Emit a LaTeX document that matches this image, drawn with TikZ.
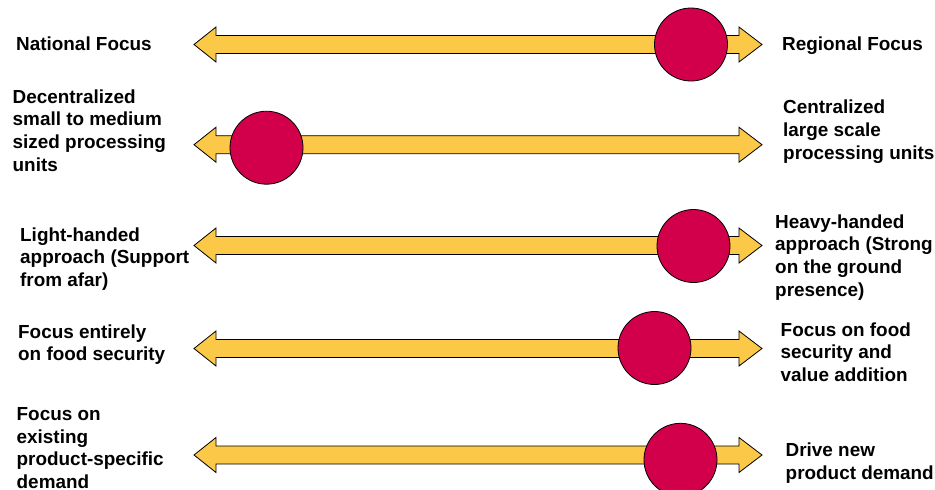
\documentclass[tikz,border=0pt]{standalone}
\usepackage{fontspec}
\setmainfont{Liberation Sans}
\definecolor{arrowfill}{HTML}{FBC847}
\definecolor{dotfill}{HTML}{D2004A}
\tikzset{
  arrowshape/.style={fill=arrowfill,draw=black,line width=0.8pt,line join=miter},
  dot/.style={circle,fill=dotfill,draw=black,line width=0.8pt,minimum size=73pt,inner sep=0pt},
  lbl/.style={anchor=north west,inner sep=0pt,align=left,font=\fontsize{18.9}{22.6}\selectfont\bfseries}
}
\newcommand{\dblarrow}[1]{%
  \draw[arrowshape] (194,#1) -- (216,#1-17.5) -- (216,#1-9) -- (739,#1-9) -- (739,#1-17.5)
    -- (762,#1) -- (739,#1+17.5) -- (739,#1+9) -- (216,#1+9) -- (216,#1+17.5) -- cycle;}
\begin{document}
\begin{tikzpicture}[x=1pt,y=-1pt]
\useasboundingbox (0,0) rectangle (935,490);
% arrows
\dblarrow{44.5}
\dblarrow{144.7}
\dblarrow{245.5}
\dblarrow{348.5}
\dblarrow{455}
% dots
\node[dot] (d1) at (691,44.5) {};
\node[dot] (d2) at (266.5,147.7) {};
\node[dot] (d3) at (693.5,246) {};
\node[dot] (d4) at (654.5,348) {};
\node[dot] (d5) at (680.5,459.8) {};
% left labels
\node[lbl] (l1) at (16,37) {National Focus};
\node[lbl] (l2) at (12.5,89.5) {Decentralized\\small to medium\\sized processing\\units};
\node[lbl] (l3) at (20,227.5) {Light-handed\\approach (Support\\from afar)};
\node[lbl] (l4) at (18,324.5) {Focus entirely\\on food security};
\node[lbl] (l5) at (16.5,407.5) {Focus on\\existing\\product-specific\\demand};
% right labels
\node[lbl] (r1) at (782,37) {Regional Focus};
\node[lbl] (r2) at (783,100) {Centralized\\large scale\\processing units};
\node[lbl] (r3) at (775,214.5) {Heavy-handed\\approach (Strong\\on the ground\\presence)};
\node[lbl] (r4) at (780.5,322.5) {Focus on food\\security and\\value addition};
\node[lbl] (r5) at (785.5,442.5) {Drive new\\product demand};
\end{tikzpicture}
\end{document}
